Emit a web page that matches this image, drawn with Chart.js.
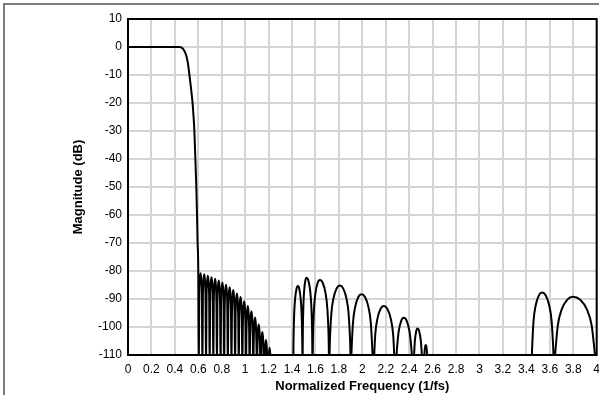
<!DOCTYPE html>
<html>
<head>
<meta charset="utf-8">
<script src="https://cdn.jsdelivr.net/npm/chart.js@4.4.1/dist/chart.umd.min.js"></script>
<style>
  html, body { margin: 0; padding: 0; background: #fff; overflow: hidden; }
  #frame {
    position: absolute; left: 3px; top: 3px; width: 620px; height: 420px;
    border-top: 2px solid #7c7c7c; border-left: 2px solid #7c7c7c;
  }
  #chart { position: absolute; left: 0; top: 0; }
</style>
</head>
<body>
<div id="frame"></div>
<canvas id="chart" width="607" height="395"></canvas>
<script>
// Tick values and labels
const X_TICKS = [0, 0.2, 0.4, 0.6, 0.8, 1, 1.2, 1.4, 1.6, 1.8, 2, 2.2, 2.4, 2.6, 2.8, 3, 3.2, 3.4, 3.6, 3.8, 4];
const X_LABELS = ["0", "0.2", "0.4", "0.6", "0.8", "1", "1.2", "1.4", "1.6", "1.8", "2", "2.2", "2.4", "2.6", "2.8", "3", "3.2", "3.4", "3.6", "3.8", "4"];
const Y_TICKS = [10, 0, -10, -20, -30, -40, -50, -60, -70, -80, -90, -100, -110];

// Passband and transition band
const passFreq = [0, 0.1, 0.2, 0.3, 0.4, 0.44, 0.46, 0.47, 0.48, 0.49, 0.5, 0.51, 0.52, 0.53, 0.54, 0.55, 0.558, 0.566, 0.575, 0.583, 0.589, 0.594, 0.6];
const passDb = [0, 0, 0, 0, 0, 0, -0.3, -0.7, -1.3, -2.2, -3.5, -5.5, -8.5, -12, -15.5, -19.5, -24, -29.5, -40, -50, -60, -70, -80.5];

// Dense stopband lobes, 0.6 .. 1.22
const denseFreq = [
  0.604, 0.608, 0.612, 0.6195, 0.627, 0.631,
  0.635, 0.639, 0.643, 0.6505, 0.658, 0.662,
  0.666, 0.670, 0.674, 0.6815, 0.689, 0.693,
  0.697, 0.701, 0.705, 0.7125, 0.720, 0.724,
  0.728, 0.732, 0.736, 0.7435, 0.751, 0.755,
  0.759, 0.763, 0.767, 0.7745, 0.782, 0.786,
  0.790, 0.794, 0.798, 0.8055, 0.813, 0.817,
  0.821, 0.825, 0.829, 0.8365, 0.844, 0.848,
  0.852, 0.856, 0.860, 0.8675, 0.875, 0.879,
  0.883, 0.887, 0.891, 0.8985, 0.906, 0.910,
  0.914, 0.918, 0.922, 0.9295, 0.937, 0.941,
  0.945, 0.949, 0.953, 0.9605, 0.968, 0.972,
  0.976, 0.980, 0.984, 0.9915, 0.999, 1.003,
  1.007, 1.011, 1.015, 1.0225, 1.030, 1.034,
  1.038, 1.042, 1.046, 1.0535, 1.061, 1.065,
  1.069, 1.073, 1.077, 1.0845, 1.092, 1.096,
  1.100, 1.104, 1.108, 1.1155, 1.123, 1.127,
  1.131, 1.135, 1.139, 1.1465, 1.154, 1.158,
  1.162, 1.166, 1.170, 1.1775, 1.185, 1.189,
  1.193, 1.197, 1.201, 1.2085, 1.216, 1.220,
  1.224
];
const denseDb = [
  -115, -89.8, -83.8, -80.8, -83.8, -89.8,
  -115, -90.2, -84.2, -81.2, -84.2, -90.2,
  -115, -90.7, -84.7, -81.7, -84.7, -90.7,
  -115, -91.2, -85.2, -82.2, -85.2, -91.2,
  -115, -91.8, -85.8, -82.8, -85.8, -91.8,
  -115, -92.4, -86.4, -83.4, -86.4, -92.4,
  -115, -93.1, -87.1, -84.1, -87.1, -93.1,
  -115, -93.9, -87.9, -84.9, -87.9, -93.9,
  -115, -94.8, -88.8, -85.8, -88.8, -94.8,
  -115, -95.8, -89.8, -86.8, -89.8, -95.8,
  -115, -97.0, -91.0, -88.0, -91.0, -97.0,
  -115, -98.3, -92.3, -89.3, -92.3, -98.3,
  -115, -99.8, -93.8, -90.8, -93.8, -99.8,
  -115, -101.5, -95.5, -92.5, -95.5, -101.5,
  -115, -103.4, -97.4, -94.4, -97.4, -103.4,
  -115, -105.6, -99.6, -96.6, -99.6, -105.6,
  -115, -108.1, -102.1, -99.1, -102.1, -108.1,
  -115, -110.8, -104.8, -101.8, -104.8, -110.8,
  -115, -113.6, -107.6, -104.6, -107.6, -113.6,
  -115, -115, -110.4, -107.4, -110.4, -115,
  -115
];

// Alias lobes, 1.4 .. 2.6
const midFreq = [
  1.41, 1.4124, 1.418, 1.426, 1.438, 1.45, 1.462, 1.474, 1.482, 1.4876,
  1.49, 1.492, 1.4968, 1.5036, 1.5138, 1.524, 1.5393, 1.5546, 1.5648, 1.5719,
  1.575, 1.5788, 1.5876, 1.6002, 1.6191, 1.638, 1.6617, 1.6854, 1.7012, 1.7123,
  1.717, 1.7225, 1.7352, 1.7534, 1.7807, 1.808, 1.8362, 1.8644, 1.8832, 1.8964,
  1.902, 1.9075, 1.9202, 1.9384, 1.9657, 1.993, 2.0227, 2.0524, 2.0722, 2.0861,
  2.092, 2.0975, 2.1102, 2.1284, 2.1557, 2.183, 2.213, 2.243, 2.263, 2.277,
  2.283, 2.2972, 2.3114, 2.3327, 2.354, 2.3777, 2.4014, 2.4172,
  2.433, 2.4406, 2.4482, 2.4596, 2.471, 2.4854, 2.4998, 2.5094,
  2.519, 2.5278, 2.5344, 2.541, 2.5482, 2.5554, 2.565
];
const midDb = [
  -115, -105.9, -95.6, -90.0, -86.4, -85.4, -86.4, -90.0, -95.6, -105.9,
  -115, -102.9, -92.6, -87.0, -83.4, -82.4, -83.4, -87.0, -92.6, -102.9,
  -115, -103.7, -93.4, -87.8, -84.2, -83.2, -84.2, -87.8, -93.4, -103.7,
  -115, -105.7, -95.4, -89.8, -86.2, -85.2, -86.2, -89.8, -95.4, -105.7,
  -115, -108.8, -98.5, -92.9, -89.3, -88.3, -89.3, -92.9, -98.5, -108.8,
  -115, -113, -102.7, -97.1, -93.5, -92.5, -93.5, -97.1, -102.7, -113,
  -115, -106.9, -101.3, -97.7, -96.7, -97.7, -101.3, -106.9,
  -115, -110.7, -105.1, -101.5, -100.5, -101.5, -105.1, -110.7,
  -115, -111.0, -107.4, -106.4, -107.4, -111.0, -115
];

// Image lobes, 3.4 .. 4
const highFreq = [
  3.443, 3.4485, 3.4612, 3.4794, 3.5067, 3.534, 3.5646, 3.5952, 3.6156, 3.6299,
  3.636, 3.6457, 3.6684, 3.7008, 3.7494, 3.798, 3.8577, 3.9174, 3.9572, 3.9851,
  3.997, 4
];
const highDb = [
  -115, -108.2, -97.9, -92.3, -88.7, -87.7, -88.7, -92.3, -97.9, -108.2,
  -115, -109.7, -99.4, -93.8, -90.2, -89.2, -90.2, -93.8, -99.4, -109.7,
  -115, -115
];

function toPoints(freqs, mags) {
  return freqs.map((f, i) => ({ x: f, y: mags[i] }));
}

const responsePoints = []
  .concat(toPoints(passFreq, passDb))
  .concat(toPoints(denseFreq, denseDb))
  .concat(toPoints(midFreq, midDb))
  .concat(toPoints(highFreq, highDb));

// Black frame round the plot area
const plotFrame = {
  id: "plotFrame",
  afterDatasetsDraw(chart) {
    const { ctx, chartArea } = chart;
    ctx.save();
    ctx.strokeStyle = "#000";
    ctx.lineWidth = 2;
    ctx.strokeRect(chartArea.left, chartArea.top, chartArea.right - chartArea.left, chartArea.bottom - chartArea.top);
    ctx.restore();
  },
};

Chart.defaults.font.family = "'Liberation Sans', Arial, sans-serif";
Chart.defaults.color = "#000";

new Chart(document.getElementById("chart"), {
  type: "line",
  data: {
    datasets: [
      {
        data: responsePoints,
        borderColor: "#000",
        borderWidth: 2,
        pointRadius: 0,
        cubicInterpolationMode: "monotone",
        fill: false,
      },
    ],
  },
  options: {
    responsive: false,
    animation: false,
    layout: { padding: { left: 67, top: 19, right: 0, bottom: 0 } },
    plugins: { legend: { display: false }, tooltip: { enabled: false } },
    scales: {
      x: {
        type: "linear",
        min: 0,
        max: 4,
        afterBuildTicks: (axis) => {
          axis.ticks = X_TICKS.map((v) => ({ value: v }));
        },
        afterFit: (axis) => {
          axis.height = 40;
        },
        ticks: {
          autoSkip: false,
          maxRotation: 0,
          padding: 7,
          font: { size: 12 },
          callback: (value, index) => X_LABELS[index],
        },
        grid: { color: "#d4d4d4", lineWidth: 2, drawTicks: false },
        border: { display: false },
        title: {
          display: true,
          text: "Normalized Frequency (1/fs)",
          font: { size: 13, weight: "bold" },
          padding: { top: 2, bottom: 1 },
        },
      },
      y: {
        type: "linear",
        min: -110,
        max: 10,
        afterBuildTicks: (axis) => {
          axis.ticks = Y_TICKS.map((v) => ({ value: v }));
        },
        afterFit: (axis) => {
          axis.width = 61;
        },
        ticks: {
          padding: 6,
          font: { size: 12 },
          callback: (value) => String(value),
        },
        grid: { color: "#d4d4d4", lineWidth: 2, drawTicks: false },
        border: { display: false },
        title: {
          display: true,
          text: "Magnitude (dB)",
          font: { size: 13, weight: "bold" },
          padding: { top: 4, bottom: 0 },
        },
      },
    },
  },
  plugins: [plotFrame],
});
</script>
</body>
</html>
